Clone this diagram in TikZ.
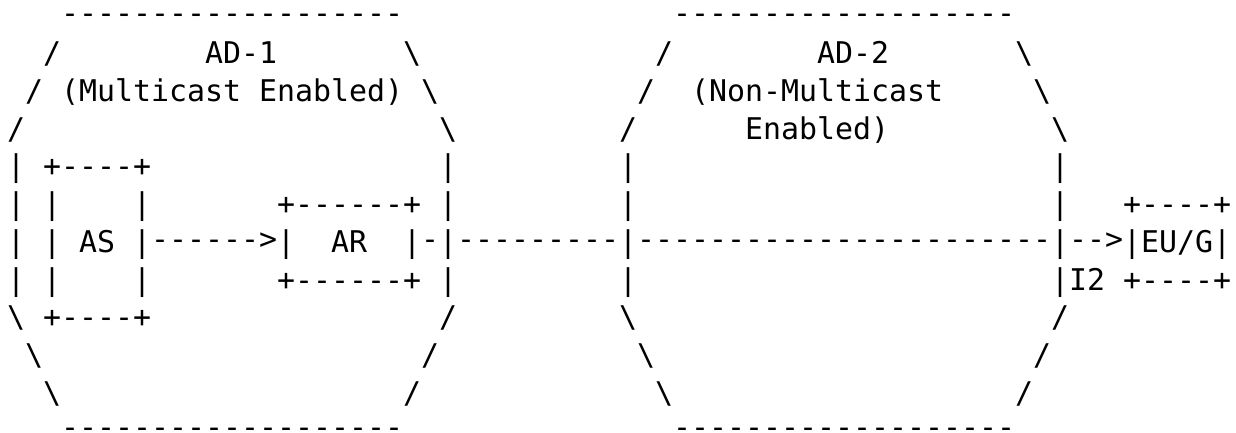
\documentclass[tikz,border=0pt]{standalone}
\usepackage{fontspec}
\setmonofont{DejaVu Sans Mono}
\usepackage{tikz}

\begin{document}
\begin{tikzpicture}[x=9pt, y=-18.85pt,
    asc/.style={anchor=base west, inner sep=0pt, font=\ttfamily\fontsize{14.95pt}{18pt}\selectfont}]
    \useasboundingbox (-0.372, -0.695) rectangle (68.294, 10.79);
    % the two domains, one octagon each
    \foreach \off in {0, 34} {
        \node[asc] at ({3+\off}, -0.08) {-------------------};
        \node[asc] at ({3+\off}, 10.92) {-------------------};
        \foreach \r/\c in {1/2, 2/1, 3/0} \node[asc] at ({\c+\off}, \r) {/};
        \foreach \r/\c in {1/22, 2/23, 3/24} \node[asc] at ({\c+\off}, \r) {\textbackslash};
        \foreach \r in {4,...,7} {
            \node[asc] at ({\off}, \r) {|};
            \node[asc] at ({24+\off}, \r) {|};
        }
        \foreach \r/\c in {8/0, 9/1, 10/2} \node[asc] at ({\c+\off}, \r) {\textbackslash};
        \foreach \r/\c in {8/24, 9/23, 10/22} \node[asc] at ({\c+\off}, \r) {/};
    }
    \node[asc] (adone) at (11, 1) {AD-1};
    \node[asc] (adonetxt) at (3, 2) {(Multicast Enabled)};
    \node[asc] (adtwo) at (45, 1) {AD-2};
    \node[asc] (adtwotxt) at (38, 2) {(Non-Multicast};
    \node[asc] (adtwotxtb) at (41, 3) {Enabled)};
    % source box
    \node[asc] at (2, 4) {+----+};
    \node[asc] at (2, 8) {+----+};
    \foreach \r in {5,6,7} {
        \node[asc] at (2, \r) {|};
        \node[asc] at (7, \r) {|};
    }
    \node[asc] (as) at (4, 6) {AS};
    % relay box
    \node[asc] at (15, 5) {+------+};
    \node[asc] at (15, 7) {+------+};
    \node[asc] at (15, 6) {|};
    \node[asc] at (22, 6) {|};
    \node[asc] (ar) at (18, 6) {AR};
    % gateway box
    \node[asc] at (62, 5) {+----+};
    \node[asc] at (62, 7) {+----+};
    \node[asc] (eug) at (62, 6) {|EU/G|};
    \node[asc] (itwo) at (59, 7) {I2};
    % links
    \node[asc] (asar) at (8, 5.92) {------>};
    \node[asc] at (23, 5.92) {-};
    \node[asc] at (25, 5.92) {---------};
    \node[asc] at (35, 5.92) {-----------------------};
    \node[asc] (toeug) at (59, 5.92) {-->};
\end{tikzpicture}
\end{document}
